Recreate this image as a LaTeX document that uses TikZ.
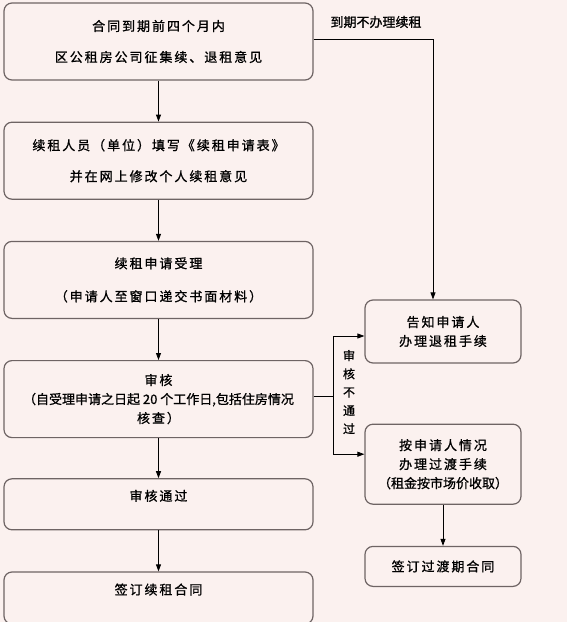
\documentclass[tikz,border=0pt]{standalone}
\usepackage{fontspec}
\setmainfont[FakeBold=1]{Noto Sans CJK SC}
\newfontfamily\widecjk[LetterSpace=15,FakeBold=1]{Noto Sans CJK SC}
\newfontfamily\tightcjk[FakeBold=1]{Noto Sans CJK SC}
\usetikzlibrary{positioning,shapes,arrows,arrows.meta}
\definecolor{bgpink}{HTML}{FBF1EF}
\definecolor{boxgray}{HTML}{6E6464}

\begin{document}
\begin{tikzpicture}[
      x=1pt, y=-1pt,
      node distance=41pt and 20pt,
      flowbox/.style={draw=boxgray,line width=1.2pt,rounded corners=8pt,fill=bgpink,align=center,
        minimum width=309pt,minimum height=77pt,font=\widecjk\fontsize{13pt}{19pt}\selectfont},
      sidebox/.style={flowbox,minimum width=156pt},
      toptext/.style={text depth=18pt},
      link/.style={draw=black,line width=0.8pt,-{Triangle[length=7pt,width=5pt]}}
    ]
    \path[use as bounding box,fill=bgpink] (0,0) rectangle (567,622);

    % left column
    \node[flowbox] (notice) at (158.5,41.5) {合同到期前四个月内\\[12pt]区公租房公司征集续、退租意见};
    \node[flowbox, below=of notice] (form) {续租人员（单位）填写《续租申请表》\\[12pt]并在网上修改个人续租意见};
    \node[flowbox, below=of form] (accept) {续租申请受理\\[14pt]（申请人至窗口递交书面材料）};
    \node[flowbox, below=of accept] (review) {审核\\{\tightcjk（自受理申请之日起 20 个工作日,包括住房情况}\\核查）};
    \node[flowbox, toptext, minimum height=51pt, below=40pt of review] (pass) {审核通过};
    \node[flowbox, toptext, minimum height=52pt, below=of pass] (sign) {签订续租合同};

    % right column
    \node[sidebox, minimum height=63pt] (inform) at (443,331.5) {告知申请人\\办理退租手续};
    \node[sidebox, minimum height=80pt, below=60pt of inform] (transit) {按申请人情况\\办理过渡手续\\{\tightcjk（租金按市场价收取）}};
    \node[sidebox, minimum height=40pt, below=of transit] (signt) {签订过渡期合同};

    % labels
    \node[font=\tightcjk\fontsize{13pt}{19pt}\selectfont] (quit) at (376,22) {到期不办理续租};
    \node[align=center, font=\tightcjk\fontsize{12pt}{18.3pt}\selectfont] (nopass) at (349,392) {审\\核\\不\\通\\过};
    \coordinate (split) at ([xshift=20pt,yshift=3pt]review.east);

    \path (notice) edge[link] (form)
          (form) edge[link] (accept)
          (accept) edge[link] (review)
          (review) edge[link] (pass)
          (pass) edge[link] (sign)
          (transit) edge[link] (signt);
    \draw[link] ([yshift=2.5pt]notice.east) -| ([xshift=-10pt]inform.north);
    \draw[line width=0.8pt] ([yshift=3pt]review.east) -- (split);
    \draw[link] (split) |- ([yshift=-4.5pt]inform.west);
    \draw[link] (split) |- ([yshift=10pt]transit.west);
\end{tikzpicture}
\end{document}
